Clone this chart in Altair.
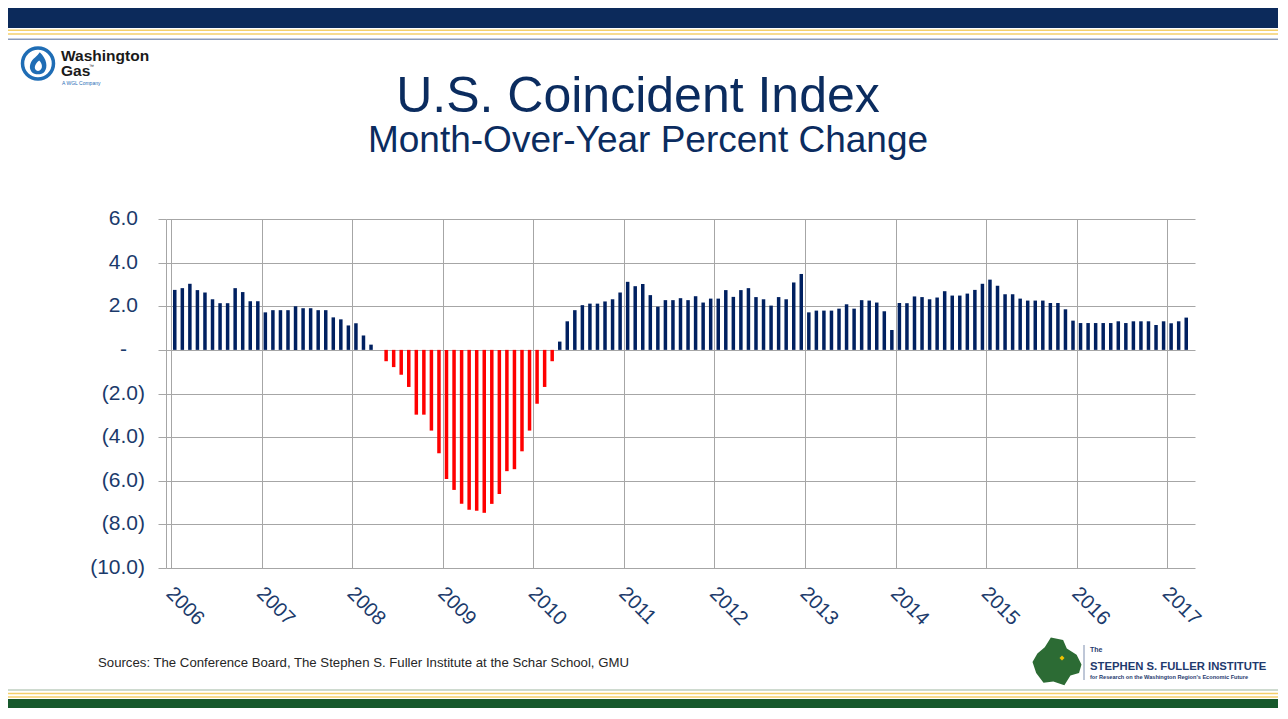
import json
import altair as alt
import pandas as pd

FONT = "Liberation Sans, Arial, Helvetica, sans-serif"
NAVY = "#002060"
RED = "#FF0000"
LAB = "#1B3A6B"
TITLE_C = "#0B2C5F"
GRID = "#A6A6A6"
BLUE = "#1F6DB5"

# ---------------- data ----------------
years = ["2006", "2007", "2008", "2009", "2010", "2011",
         "2012", "2013", "2014", "2015", "2016", "2017"]
v2006 = [2.75, 2.83, 3.03, 2.74, 2.63, 2.32, 2.14, 2.14, 2.83, 2.65, 2.23, 2.23]
v2007 = [1.72, 1.82, 1.82, 1.82, 2.00, 1.91, 1.91, 1.82, 1.82, 1.49, 1.40, 1.12]
v2008 = [1.22, 0.66, 0.24, 0.00, -0.52, -0.79, -1.14, -1.70, -2.97, -2.97, -3.70, -4.74]
v2009 = [-5.92, -6.42, -7.06, -7.33, -7.38, -7.47, -7.06, -6.61, -5.56, -5.47, -4.65, -3.70]
v2010 = [-2.47, -1.70, -0.52, 0.38, 1.31, 1.82, 2.05, 2.12, 2.12, 2.22, 2.32, 2.63]
v2011 = [3.12, 2.92, 3.02, 2.51, 1.98, 2.28, 2.28, 2.37, 2.28, 2.46, 2.17, 2.35]
v2012 = [2.35, 2.74, 2.43, 2.74, 2.83, 2.42, 2.32, 2.03, 2.42, 2.32, 3.09, 3.48]
v2013 = [1.72, 1.80, 1.80, 1.80, 1.89, 2.09, 1.89, 2.28, 2.26, 2.17, 1.77, 0.91]
v2014 = [2.15, 2.14, 2.45, 2.42, 2.32, 2.40, 2.69, 2.49, 2.49, 2.58, 2.75, 3.03]
v2015 = [3.22, 2.94, 2.55, 2.55, 2.35, 2.26, 2.26, 2.26, 2.15, 2.15, 1.86, 1.34]
v2016 = [1.23, 1.23, 1.23, 1.23, 1.23, 1.31, 1.23, 1.31, 1.31, 1.31, 1.14, 1.31]
v2017 = [1.22, 1.31, 1.48]

series = [v2006, v2007, v2008, v2009, v2010, v2011,
          v2012, v2013, v2014, v2015, v2016, v2017]
values = [x for vals in series for x in vals]
months = [f"{y}-{m:02d}" for y, vals in zip(years, series) for m in range(1, len(vals) + 1)]
df = pd.DataFrame({"month": months, "v": values})
df["t"] = [i + 0.5 for i in range(len(df))]
N = len(df)

y_ticks = [6, 4, 2, 0, -2, -4, -6, -8, -10]
y_labels = ["6.0", "4.0", "2.0", "-", "(2.0)", "(4.0)", "(6.0)", "(8.0)", "(10.0)"]
ydf = pd.DataFrame({"v": y_ticks, "lab": y_labels})

title_text = "U.S. Coincident Index"
subtitle_text = "Month-Over-Year Percent Change"
source_text = "Sources: The Conference Board, The Stephen S. Fuller Institute at the Schar School, GMU"

# ---------------- layout helpers ----------------
OX, OY = 166, 219          # page position of plot origin
W, H = 1029, 349


def px(x):
    return x - OX


def py(y):
    return y - OY


one = pd.DataFrame({"k": [0]})


def rect(x1, y1, x2, y2, color):
    return alt.Chart(one).mark_rect(color=color).encode(
        x=alt.value(px(x1)), x2=alt.value(px(x2)),
        y=alt.value(py(y1)), y2=alt.value(py(y2)))


def text(s, x, y, size, color, weight="normal", align="left", font=FONT):
    return alt.Chart(one).mark_text(
        text=s, fontSize=size, color=color, fontWeight=weight,
        align=align, baseline="alphabetic", font=font).encode(
        x=alt.value(px(x)), y=alt.value(py(y)))


def symbol(shape, x, y, size, color, filled=True, sw=0):
    kw = dict(shape=shape, size=size, opacity=1)
    if filled:
        kw.update(filled=True, color=color)
    else:
        kw.update(filled=False, stroke=color, strokeWidth=sw, fill="white", fillOpacity=1)
    return alt.Chart(one).mark_point(**kw).encode(x=alt.value(px(x)), y=alt.value(py(y)))


# ---------------- chart ----------------
yscale = alt.Scale(domain=[-10, 6], nice=False, zero=False)
yaxis = alt.Axis(values=y_ticks, labels=False, ticks=True, tickSize=8, tickColor=GRID,
                 domain=True, domainColor=GRID, grid=True, gridColor=GRID, gridWidth=1,
                 title=None)
xaxis = alt.Axis(values=list(range(0, N, 12)),
                 labelExpr=json.dumps(years) + "[round(datum.value / 12)]",
                 labelAngle=45, labelAlign="left", labelBaseline="top",
                 labelPadding=15, labelOffset=5, labelFont=FONT, labelFontSize=20,
                 labelColor=LAB, ticks=False, domain=False, grid=True, gridColor=GRID,
                 gridWidth=1, labelOverlap=False, labelFlush=False, labelBound=False,
                 title=None)

bars = alt.Chart(df).mark_bar(size=3.5, orient="vertical").encode(
    x=alt.X("t:Q", scale=alt.Scale(domain=[0, N], nice=False, zero=False), axis=xaxis),
    y=alt.Y("v:Q", scale=yscale, axis=yaxis),
    color=alt.condition("datum.v < 0", alt.value(RED), alt.value(NAVY)),
)


def ylab(filt, xr):
    return alt.Chart(ydf).transform_filter(filt).mark_text(
        align="right", baseline="middle", fontSize=21, font=FONT, color=LAB).encode(
        y=alt.Y("v:Q", scale=yscale, axis=yaxis),
        x=alt.value(px(xr)),
        text="lab:N")


layers = [
    # slide decorations
    rect(8, 8, 1278, 28, "#0C2A5B"),
    rect(8, 29.5, 1278, 31, "#F4CF6A"),
    rect(8, 33.3, 1278, 34.7, "#F4CF6A"),
    rect(8, 38.5, 1278, 40, "#8D9BB8"),
    rect(8, 689.5, 1278, 690.5, "#9DB59F"),
    rect(8, 692.7, 1278, 694.2, "#F4CF6A"),
    rect(8, 696.3, 1278, 697.8, "#F4CF6A"),
    rect(8, 699, 1278, 708, "#17592C"),
    # Washington Gas logo
    symbol("circle", 38, 63.5, 960, BLUE, filled=False, sw=3.5),
    symbol("M0.15,-1 C0.75,-0.45 0.85,0.25 0.55,0.65 C0.3,0.95 -0.3,0.95 -0.55,0.65 "
           "C-0.85,0.25 -0.6,-0.3 -0.25,-0.55 C-0.1,-0.7 0.05,-0.85 0.15,-1 Z",
           38, 64, 560, BLUE),
    symbol("M0.1,-0.3 C0.45,0.05 0.4,0.5 0,0.6 C-0.4,0.5 -0.35,0.05 0.1,-0.3 Z",
           38, 64, 560, "white"),
    text("Washington", 61, 61, 15.5, "#1A1A1A", weight="bold"),
    text("Gas", 61, 76, 15.5, "#1A1A1A", weight="bold"),
    text("™", 89, 68, 5, "#1A1A1A"),
    text("A WGL Company", 62, 84.5, 5, BLUE),
    # titles
    text(title_text, 638, 112, 50, TITLE_C, align="center"),
    text(subtitle_text, 648, 152, 37, TITLE_C, align="center"),
    # source
    text(source_text, 98, 667, 13.2, "#262626"),
    # Fuller Institute logo
    symbol("M-0.25,-1 L0.25,-0.9 L0.4,-0.55 L0.8,-0.3 L1,0.1 L0.9,0.45 L0.55,0.55 "
           "L0.3,0.95 L-0.15,0.8 L-0.55,0.85 L-0.85,0.45 L-1,0 L-0.8,-0.35 L-0.5,-0.6 Z",
           1057, 662, 2400, "#2C6B34"),
    symbol("diamond", 1062, 658, 25, "#F2C200"),
    alt.Chart(one).mark_rule(color="#7F8FAF", strokeWidth=1).encode(
        x=alt.value(px(1084)), y=alt.value(py(645)), y2=alt.value(py(680))),
    text("The", 1090, 652, 7, "#1F3A6E", weight="bold"),
    text("STEPHEN S. FULLER INSTITUTE", 1090, 670, 11.3, "#1F3A6E", weight="bold"),
    text("for Research on the Washington Region's Economic Future", 1090, 679, 5.6,
         "#1F3A6E", weight="bold"),
    # data
    bars,
    ylab("datum.v > 0", 138),
    ylab("datum.v < 0", 145),
    ylab("datum.v == 0", 127),
]

chart = alt.layer(*layers).properties(
    width=W, height=H,
    padding={"left": OX - 8, "top": OY - 8, "right": 1270 - (OX - 8) - W,
             "bottom": 700 - (OY - 8) - H},
    autosize=alt.AutoSizeParams(type="none"),
    background="white",
).configure_view(stroke=None)

chart.save("out.html", embed_options={"renderer": "svg", "actions": False})
